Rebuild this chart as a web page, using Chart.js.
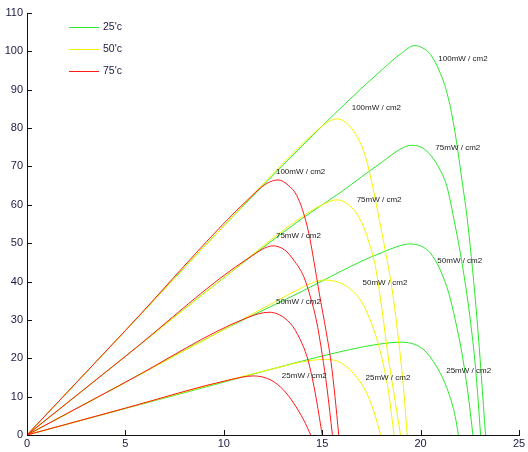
<!DOCTYPE html>
<html>
<head>
<meta charset="utf-8">
<script src="https://cdn.jsdelivr.net/npm/chart.js@4/dist/chart.umd.min.js"></script>
<style>
  html, body { margin: 0; padding: 0; background: #fff; }
  #wrap { width: 528px; height: 452px; }
</style>
</head>
<body>
<div id="wrap"><canvas id="pv" width="528" height="452"></canvas></div>
<script>
// P-V characteristics of a PV module: output power (W) against voltage (V)
// for three cell temperatures and four irradiance levels.

const temperatures = ["25'c", "50'c", "75'c"];
const irradianceLabels = ["25mW / cm2", "50mW / cm2", "75mW / cm2", "100mW / cm2"];

const xTicks = [0, 5, 10, 15, 20, 25];
const yTicks = [0, 10, 20, 30, 40, 50, 60, 70, 80, 90, 100, 110];

// 25'c
const v25_25  = [0, 5, 10, 14, 15.5, 17, 18.2, 19.0, 19.8, 20.3, 21.0, 21.43, 21.76, 21.92];
const p25_25  = [0, 6.9, 13.8, 19.3, 21.2, 22.9, 23.9, 24.2, 23.4, 21.5, 16.1, 10.9, 4.8, 0];
const v25_50  = [0, 5, 10, 14, 16, 17, 18, 18.8, 19.4, 20, 20.5, 21, 21.43, 21.76, 22.1, 22.4, 22.66];
const p25_50  = [0, 13.75, 27.5, 37.5, 42.8, 45.3, 47.5, 49.1, 49.8, 49.3, 47.4, 43, 37, 30, 21.3, 11.2, 0];
const v25_75  = [0, 5, 10, 14, 16, 17, 18, 19, 19.5, 20, 20.5, 21, 21.34, 21.76, 22.1, 22.5, 22.8, 23.05];
const p25_75  = [0, 20.5, 41, 56.5, 63.5, 67.3, 71, 74.6, 75.5, 75.1, 73, 69, 64.7, 54.5, 45, 31, 17, 0];
const v25_100 = [0, 5, 10, 14.5, 16.4, 18.1, 19, 19.7, 20.1, 20.5, 21, 21.35, 21.7, 22.1, 22.4, 22.87, 23.3];
const p25_100 = [0, 27.2, 54.5, 78, 87.5, 95.5, 99.4, 101.5, 100.9, 99.2, 94.3, 89, 80.4, 66.5, 55, 30, 0];

// 50'c
const v50_25  = [0, 5, 10, 13, 14, 15.1, 15.8, 16.6, 17.2, 17.6, 17.97];
const p50_25  = [0, 7, 14, 17.9, 19.1, 19.7, 19.2, 16, 11.5, 6.5, 0];
const v50_50  = [0, 5, 10, 13.7, 14.5, 15.1, 15.7, 16.26, 16.94, 17.37, 17.79, 18.13, 18.38, 18.65];
const p50_50  = [0, 13.75, 27.5, 37.7, 39.7, 40.4, 40, 38.7, 35.2, 30.8, 24.8, 17.8, 10.9, 0];
const v50_75  = [0, 5, 10, 14, 15, 15.75, 16.6, 17.1, 17.44, 17.7, 18.04, 18.38, 18.7, 18.98];
const p50_75  = [0, 20.5, 41, 57, 60, 61.3, 58.7, 54.3, 49.1, 44, 32.6, 19.5, 9, 0];
const v50_100 = [0, 5, 10, 13, 14.5, 15.2, 15.75, 16.68, 17.2, 17.53, 17.87, 18.2, 18.55, 18.85, 19.1, 19.32];
const p50_100 = [0, 27.2, 54.5, 70.8, 78.3, 81.3, 82.4, 78.6, 72.5, 65.6, 56.9, 48.2, 38, 26, 14, 0];

// 75'c
const v75_25  = [0, 5, 10.4, 11.5, 12.4, 13.04, 13.55, 14.06, 14.42];
const p75_25  = [0, 7, 14.5, 15.4, 14.3, 11.7, 8.3, 3.9, 0];
const v75_50  = [0, 5, 11.2, 12.3, 13.38, 13.89, 14.23, 14.48, 14.71, 15.0];
const p75_50  = [0, 13.75, 30.6, 32, 29.1, 24.8, 20.4, 15.2, 9.1, 0];
const v75_75  = [0, 5, 11.4, 12.5, 13.1, 13.55, 14.06, 14.4, 14.7, 15.0, 15.25, 15.52];
const p75_75  = [0, 20.5, 46.6, 49.3, 48.2, 45.6, 41.3, 36, 30, 21, 12, 0];
const v75_100 = [0, 5, 11.6, 12.2, 12.75, 13.3, 13.7, 14.0, 14.32, 14.57, 14.85, 15.2, 15.45, 15.65, 15.84];
const p75_100 = [0, 27.25, 63.2, 65.6, 66.5, 65, 62.5, 58.7, 52.6, 45.6, 37, 27, 19, 10, 0];

// Where each irradiance caption sits, in axis units (V, W)
const labelV25 = [21.3, 20.85, 20.75, 20.9];
const labelP25 = [16.7, 45.4, 74.8, 98.0];
const labelV50 = [17.2, 17.05, 16.75, 16.5];
const labelP50 = [14.9, 39.6, 61.3, 85.2];
const labelV75 = [12.95, 12.65, 12.65, 12.65];
const labelP75 = [15.4, 34.7, 51.9, 68.6];

const colors = ['#2ae82a', '#f4f400', '#ff1a1a'];

const curves = [
  [[v25_25, p25_25], [v25_50, p25_50], [v25_75, p25_75], [v25_100, p25_100]],
  [[v50_25, p50_25], [v50_50, p50_50], [v50_75, p50_75], [v50_100, p50_100]],
  [[v75_25, p75_25], [v75_50, p75_50], [v75_75, p75_75], [v75_100, p75_100]]
];
const captionV = [labelV25, labelV50, labelV75];
const captionP = [labelP25, labelP50, labelP75];

const toPoints = (vs, ps) => vs.map((v, i) => ({ x: v, y: ps[i] }));

const datasets = [];
curves.forEach((group, t) => {
  group.forEach(([vs, ps], k) => {
    datasets.push({
      label: temperatures[t] + ' ' + irradianceLabels[k],
      data: toPoints(vs, ps),
      borderColor: colors[t],
      borderWidth: 1,
      pointRadius: 0,
      fill: false,
      cubicInterpolationMode: 'monotone',
      order: 3 - t
    });
  });
});

const FONT = '"Liberation Sans", Arial, sans-serif';
const AXIS_FONT = '"Liberation Sans Narrow", "Liberation Sans", Arial, sans-serif';
const AXIS_INK = '#1a1a40';

// Inward tick marks on both axes
const innerTicks = {
  id: 'innerTicks',
  afterDraw(chart) {
    const { ctx, chartArea: a, scales: { x, y } } = chart;
    ctx.save();
    ctx.strokeStyle = '#111';
    ctx.lineWidth = 1;
    ctx.beginPath();
    xTicks.forEach(v => {
      const px = Math.round(x.getPixelForValue(v)) + 0.5;
      ctx.moveTo(px, a.bottom);
      ctx.lineTo(px, a.bottom - 5);
    });
    yTicks.forEach(v => {
      const py = Math.round(y.getPixelForValue(v)) + 0.5;
      ctx.moveTo(a.left, py);
      ctx.lineTo(a.left + 5, py);
    });
    ctx.stroke();
    ctx.restore();
  }
};

// Irradiance captions next to each curve
const captions = {
  id: 'captions',
  afterDatasetsDraw(chart) {
    const { ctx, scales: { x, y } } = chart;
    ctx.save();
    ctx.font = '8px ' + FONT;
    ctx.fillStyle = '#1a1a1a';
    ctx.textAlign = 'left';
    ctx.textBaseline = 'middle';
    captionV.forEach((vs, t) => {
      vs.forEach((v, k) => {
        ctx.fillText(irradianceLabels[k], x.getPixelForValue(v), y.getPixelForValue(captionP[t][k]));
      });
    });
    ctx.restore();
  }
};

// Temperature key in the upper-left corner
const tempKey = {
  id: 'tempKey',
  afterDraw(chart) {
    const { ctx, chartArea: a } = chart;
    ctx.save();
    ctx.font = '10.5px ' + AXIS_FONT;
    ctx.textAlign = 'left';
    ctx.textBaseline = 'middle';
    temperatures.forEach((name, i) => {
      const yy = a.top + 14.5 + i * 22;
      ctx.strokeStyle = colors[i];
      ctx.lineWidth = 1;
      ctx.beginPath();
      ctx.moveTo(a.left + 42, yy);
      ctx.lineTo(a.left + 72, yy);
      ctx.stroke();
      ctx.fillStyle = AXIS_INK;
      ctx.fillText(name, a.left + 76, yy);
    });
    ctx.restore();
  }
};

new Chart(document.getElementById('pv'), {
  type: 'line',
  data: { datasets },
  plugins: [innerTicks, captions, tempKey],
  options: {
    responsive: false,
    animation: false,
    devicePixelRatio: 1,
    layout: { padding: { top: 13, right: 9, left: 0, bottom: 0 } },
    plugins: { legend: { display: false }, tooltip: { enabled: false } },
    scales: {
      x: {
        type: 'linear',
        min: 0, max: 25,
        afterFit: s => { s.height = 17; },
        afterBuildTicks: s => { s.ticks = xTicks.map(v => ({ value: v })); },
        grid: { display: false, drawTicks: false },
        border: { display: true, color: '#111', width: 1 },
        ticks: { padding: 2, color: AXIS_INK, font: { family: AXIS_FONT, size: 11 }, maxRotation: 0 }
      },
      y: {
        type: 'linear',
        min: 0, max: 110,
        afterFit: s => { s.width = 27; },
        afterBuildTicks: s => { s.ticks = yTicks.map(v => ({ value: v })); },
        grid: { display: false, drawTicks: false },
        border: { display: true, color: '#111', width: 1 },
        ticks: { padding: 4, color: AXIS_INK, font: { family: AXIS_FONT, size: 11 } }
      }
    }
  }
});
</script>
</body>
</html>
